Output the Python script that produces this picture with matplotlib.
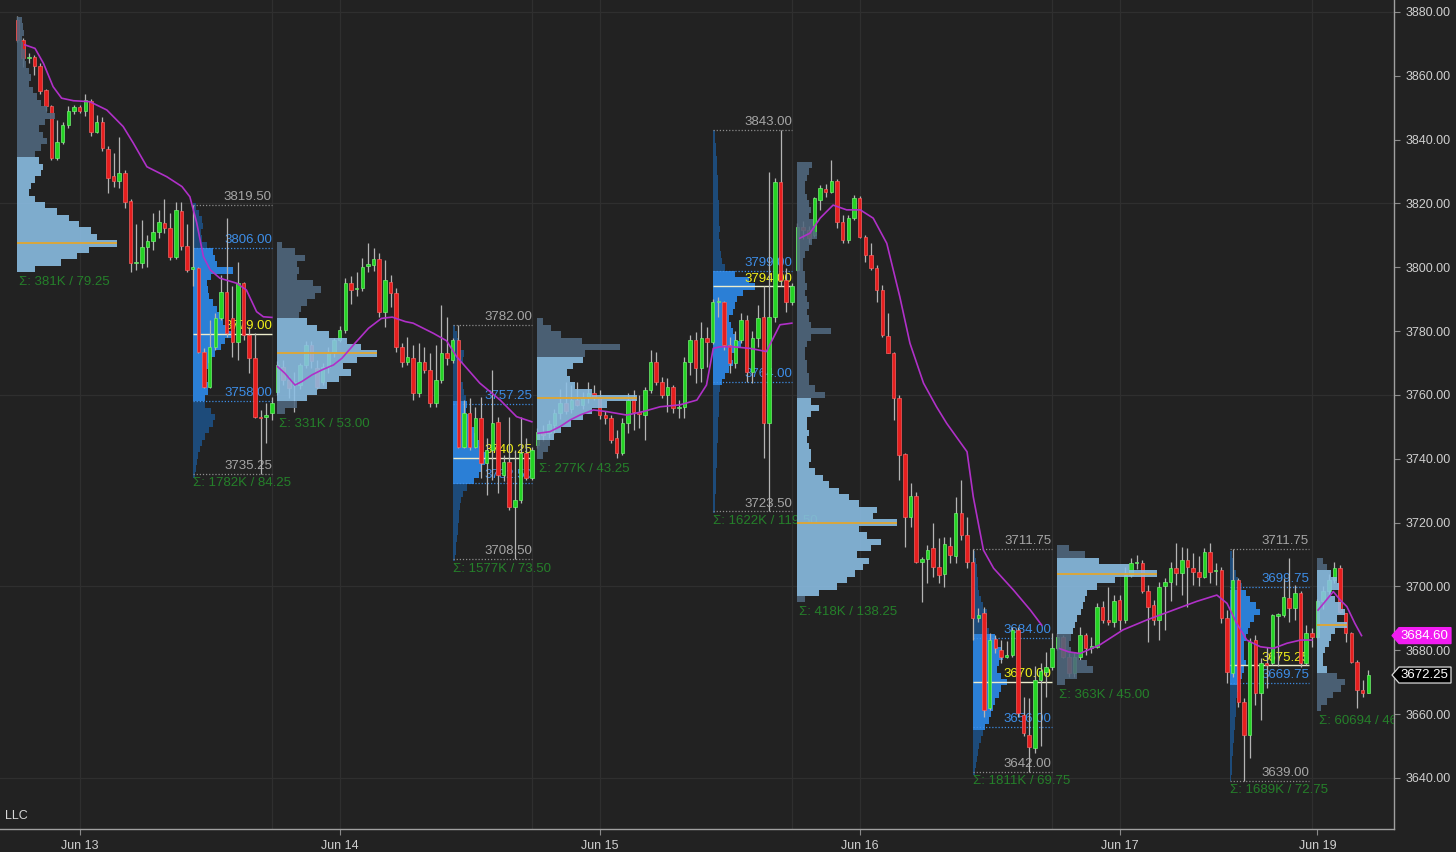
import numpy as np
import matplotlib
matplotlib.use("Agg")
import matplotlib.pyplot as plt
from matplotlib.patches import Polygon
from matplotlib.transforms import blended_transform_factory

plt.rcParams['font.family'] = ['Liberation Sans', 'DejaVu Sans']

# ---------------- 30-minute OHLC bars (bar index 0 .. 239) ----------------
opens = [
    3877.5, 3871.2, 3865.5, 3865.8, 3863.2, 3855.6, 3850.5, 3834.2, 3839.4, 3844.6,
    3849.0, 3850.1, 3849.1, 3852.1, 3842.5, 3845.6, 3837.1, 3828.6, 3827.2, 3829.7,
    3820.8, 3801.3, 3801.3, 3806.3, 3808.4, 3811.0, 3814.0, 3812.2, 3803.3, 3817.8,
    3806.7, 3799.5, 3799.7, 3773.6, 3762.6, 3775.1, 3784.0, 3792.4, 3784.0, 3776.7,
    3795.0, 3778.8, 3771.5, 3753.2, 3753.0, 3754.2,
    3761.0, 3768.9, 3764.7, 3763.0, 3763.1, 3769.4, 3775.7, 3768.4, 3764.2, 3768.9,
    3773.6, 3777.2, 3780.4, 3795.0, 3793.2, 3793.4, 3800.4, 3800.7, 3802.5, 3786.1,
    3795.5, 3791.9, 3775.1, 3770.4, 3771.5, 3760.5, 3770.4, 3767.8, 3757.4, 3764.7,
    3773.0, 3771.0, 3777.2, 3743.8, 3754.3, 3743.8, 3752.7, 3738.6, 3742.8, 3751.6,
    3734.9, 3739.1, 3725.0, 3727.1, 3741.7, 3733.9,
    3744.3, 3748.5, 3748.0, 3750.5, 3754.3, 3757.4, 3755.5, 3758.4, 3757.0, 3759.0,
    3760.5, 3759.5, 3753.7, 3752.7, 3746.4, 3741.7, 3751.1, 3759.0, 3754.8, 3753.7,
    3761.6, 3770.4, 3764.2, 3760.0, 3762.6, 3755.8, 3756.3, 3770.4, 3777.2, 3768.3,
    3777.8, 3776.7, 3789.0, 3789.0, 3775.7, 3769.9, 3777.2, 3783.5, 3767.3, 3777.8,
    3784.5, 3751.1, 3784.5, 3826.8, 3796.0, 3789.2,
    3799.2, 3812.7, 3811.7, 3810.2, 3821.1, 3824.4, 3823.7, 3827.2, 3814.3, 3808.6,
    3815.4, 3821.6, 3809.6, 3803.9, 3799.7, 3792.9, 3778.5, 3773.1, 3759.0, 3741.5,
    3721.9, 3728.4, 3707.8, 3708.5, 3712.0, 3706.2, 3704.0, 3712.7, 3709.6, 3722.9,
    3716.1, 3707.8, 3690.0, 3691.6, 3661.8, 3683.4, 3680.1, 3678.0, 3678.5, 3686.4,
    3659.7, 3653.5, 3649.3, 3670.7, 3673.3, 3674.9,
    3680.6, 3684.3, 3678.0, 3672.8, 3678.0, 3684.8, 3680.6, 3681.1, 3693.5, 3689.5,
    3689.0, 3695.8, 3689.5, 3703.6, 3707.3, 3707.3, 3698.7, 3694.2, 3689.5, 3700.2,
    3701.5, 3705.7, 3704.1, 3708.3, 3705.7, 3704.6, 3703.1, 3710.9, 3704.7, 3705.2,
    3690.0, 3672.8, 3702.0, 3663.9, 3653.5, 3683.2, 3666.5, 3675.9, 3675.9, 3690.8,
    3691.1, 3696.3, 3693.2, 3697.9, 3675.9, 3685.3,
    3684.3, 3695.3, 3698.5, 3702.0, 3705.7, 3691.6, 3685.3, 3676.4, 3667.6, 3666.7,
]
highs = [
    3878.75, 3872.0, 3867.0, 3866.5, 3864.0, 3856.0, 3851.0, 3846.2, 3845.5, 3850.5,
    3851.0, 3851.0, 3854.3, 3852.8, 3847.7, 3847.2, 3838.0, 3835.7, 3840.9, 3830.5,
    3821.5, 3813.6, 3814.8, 3810.1, 3817.0, 3818.0, 3821.3, 3817.0, 3820.6, 3820.6,
    3813.6, 3819.5, 3800.0, 3774.6, 3783.5, 3785.6, 3797.6, 3815.4, 3794.0, 3801.8,
    3795.5, 3781.4, 3779.3, 3755.3, 3757.4, 3759.5,
    3770.5, 3771.0, 3766.0, 3767.3, 3770.0, 3777.0, 3777.0, 3771.0, 3770.0, 3775.0,
    3778.0, 3781.5, 3796.5, 3797.2, 3798.6, 3802.8, 3807.5, 3805.9, 3804.5, 3802.3,
    3797.6, 3793.4, 3776.2, 3778.3, 3775.6, 3776.2, 3775.1, 3773.1, 3775.6, 3788.2,
    3784.5, 3778.0, 3782.0, 3758.4, 3759.0, 3756.3, 3759.5, 3746.4, 3767.8, 3753.2,
    3741.2, 3753.2, 3742.8, 3753.2, 3746.4, 3743.8,
    3749.5, 3750.5, 3752.0, 3755.5, 3762.0, 3764.0, 3763.0, 3764.2, 3761.0, 3764.0,
    3763.0, 3761.5, 3755.0, 3753.7, 3749.0, 3752.7, 3760.5, 3761.6, 3760.0, 3762.6,
    3774.1, 3773.6, 3765.7, 3765.2, 3763.1, 3758.5, 3772.0, 3778.8, 3779.8, 3783.0,
    3781.4, 3790.0, 3790.8, 3789.5, 3778.3, 3779.9, 3785.6, 3785.0, 3780.0, 3788.2,
    3794.0, 3830.0, 3828.0, 3843.0, 3799.7, 3795.0,
    3813.8, 3814.5, 3813.0, 3822.0, 3825.8, 3826.0, 3833.6, 3827.8, 3816.4, 3816.4,
    3822.7, 3822.2, 3810.2, 3807.5, 3800.7, 3794.5, 3785.6, 3773.6, 3760.0, 3741.7,
    3732.3, 3729.7, 3709.3, 3713.0, 3719.8, 3715.1, 3715.6, 3715.6, 3728.1, 3733.4,
    3721.9, 3711.75, 3693.2, 3693.7, 3685.3, 3684.8, 3683.2, 3683.0, 3687.4, 3687.4,
    3665.5, 3665.0, 3675.0, 3675.9, 3679.6, 3685.3,
    3685.3, 3684.8, 3679.1, 3679.6, 3687.4, 3685.3, 3684.3, 3694.7, 3695.3, 3699.9,
    3697.3, 3697.3, 3706.2, 3708.8, 3710.0, 3708.3, 3700.5, 3695.8, 3701.5, 3702.6,
    3707.8, 3713.5, 3712.5, 3712.0, 3710.4, 3709.4, 3711.9, 3713.5, 3707.3, 3706.2,
    3692.6, 3711.75, 3702.6, 3665.0, 3684.0, 3684.8, 3677.5, 3681.1, 3691.5, 3691.6,
    3702.6, 3708.8, 3700.5, 3698.5, 3687.9, 3686.9,
    3696.0, 3700.0, 3704.0, 3707.8, 3706.7, 3691.6, 3685.8, 3677.0, 3670.7, 3673.8,
]
lows = [
    3870.5, 3862.9, 3864.0, 3860.3, 3854.3, 3849.0, 3833.6, 3833.6, 3838.5, 3843.5,
    3848.0, 3848.5, 3847.4, 3841.0, 3842.0, 3836.5, 3823.4, 3825.3, 3824.8, 3818.5,
    3798.6, 3799.2, 3799.7, 3800.2, 3805.4, 3809.1, 3810.6, 3802.3, 3802.5, 3805.4,
    3798.6, 3794.0, 3773.1, 3762.1, 3762.1, 3774.1, 3783.5, 3778.3, 3772.0, 3771.0,
    3777.2, 3766.8, 3752.7, 3735.25, 3744.9, 3752.0,
    3760.0, 3763.0, 3759.0, 3754.8, 3762.0, 3768.5, 3768.5, 3762.0, 3763.0, 3767.0,
    3772.0, 3776.5, 3779.5, 3788.5, 3791.0, 3792.5, 3798.5, 3799.0, 3784.5, 3781.4,
    3787.7, 3773.6, 3768.9, 3769.4, 3758.4, 3759.5, 3766.8, 3756.3, 3756.3, 3763.7,
    3769.4, 3770.0, 3743.3, 3743.3, 3742.8, 3743.3, 3733.9, 3728.7, 3733.4, 3729.2,
    3732.9, 3724.0, 3708.5, 3726.1, 3733.4, 3733.4,
    3743.5, 3745.5, 3746.5, 3748.0, 3752.5, 3754.0, 3754.5, 3756.5, 3755.5, 3757.5,
    3758.5, 3752.5, 3751.0, 3744.9, 3740.2, 3741.2, 3748.0, 3749.0, 3749.5, 3745.9,
    3760.5, 3763.2, 3759.0, 3754.8, 3754.3, 3752.7, 3752.7, 3766.3, 3763.7, 3764.2,
    3768.9, 3776.0, 3784.5, 3774.1, 3766.8, 3768.4, 3776.2, 3764.2, 3763.7, 3775.1,
    3740.2, 3723.5, 3783.0, 3794.0, 3786.1, 3788.2,
    3798.7, 3809.0, 3807.5, 3809.5, 3818.0, 3822.0, 3823.2, 3812.2, 3807.5, 3807.5,
    3814.8, 3809.1, 3801.8, 3799.2, 3789.2, 3778.3, 3773.1, 3752.2, 3733.4, 3712.5,
    3718.7, 3707.3, 3695.2, 3701.0, 3703.1, 3701.0, 3699.9, 3707.3, 3707.3, 3714.6,
    3705.7, 3683.2, 3689.0, 3659.2, 3661.3, 3679.1, 3675.9, 3677.5, 3678.0, 3659.2,
    3653.0, 3642.0, 3647.7, 3650.0, 3665.5, 3673.8,
    3680.0, 3677.5, 3671.7, 3671.7, 3677.0, 3678.5, 3679.1, 3680.6, 3688.5, 3687.9,
    3687.4, 3686.4, 3688.5, 3703.1, 3705.5, 3697.8, 3682.7, 3687.9, 3683.2, 3686.4,
    3695.3, 3700.5, 3697.3, 3693.7, 3700.5, 3700.0, 3702.6, 3701.0, 3700.5, 3688.5,
    3669.7, 3671.7, 3662.3, 3639.0, 3646.2, 3662.9, 3658.2, 3668.1, 3675.4, 3675.0,
    3690.5, 3689.0, 3689.5, 3674.9, 3675.4, 3681.1,
    3683.8, 3693.0, 3697.0, 3701.0, 3691.6, 3682.7, 3675.9, 3661.8, 3665.5, 3666.5,
]
closes = [
    3871.2, 3865.5, 3866.0, 3863.2, 3855.4, 3850.5, 3834.2, 3839.4, 3844.6, 3849.0,
    3850.1, 3849.1, 3852.4, 3842.5, 3845.6, 3837.3, 3827.9, 3827.2, 3829.7, 3820.6,
    3801.3, 3801.7, 3806.3, 3808.4, 3811.0, 3814.3, 3812.2, 3803.1, 3818.0, 3806.7,
    3799.2, 3800.0, 3773.6, 3762.6, 3775.1, 3784.0, 3792.4, 3779.3, 3776.7, 3795.0,
    3778.8, 3771.5, 3753.2, 3752.8, 3753.7, 3757.4,
    3769.4, 3764.7, 3762.1, 3764.0, 3769.4, 3775.7, 3770.5, 3762.6, 3768.9, 3773.6,
    3777.2, 3780.4, 3795.0, 3792.9, 3793.6, 3800.2, 3800.9, 3802.5, 3786.1, 3796.0,
    3791.9, 3775.1, 3770.4, 3772.0, 3760.5, 3770.4, 3767.8, 3757.4, 3764.7, 3773.0,
    3771.5, 3777.2, 3743.8, 3754.3, 3743.8, 3752.7, 3738.6, 3742.8, 3751.1, 3734.9,
    3739.1, 3725.0, 3727.1, 3741.7, 3733.9, 3742.8,
    3748.5, 3747.5, 3751.0, 3754.3, 3757.4, 3755.0, 3758.4, 3757.0, 3759.0, 3760.5,
    3759.5, 3753.7, 3752.7, 3745.9, 3741.7, 3751.1, 3758.4, 3754.8, 3754.0, 3761.6,
    3770.4, 3764.2, 3760.0, 3762.6, 3755.8, 3756.3, 3770.4, 3777.2, 3768.3, 3777.8,
    3776.7, 3789.2, 3789.5, 3775.7, 3769.9, 3777.2, 3783.5, 3767.3, 3777.8, 3784.0,
    3751.1, 3784.5, 3826.8, 3796.0, 3789.2, 3794.0,
    3812.7, 3811.7, 3809.1, 3821.6, 3824.8, 3823.7, 3827.2, 3814.3, 3808.6, 3815.4,
    3821.6, 3809.6, 3803.9, 3799.7, 3792.9, 3778.8, 3773.3, 3759.0, 3741.2, 3721.9,
    3728.4, 3707.8, 3708.5, 3711.4, 3706.2, 3703.6, 3713.3, 3709.9, 3722.9, 3716.1,
    3707.8, 3690.0, 3691.1, 3661.3, 3683.2, 3680.6, 3678.0, 3678.5, 3686.4, 3660.3,
    3654.0, 3649.8, 3670.7, 3673.6, 3674.9, 3680.6,
    3684.3, 3678.0, 3672.8, 3678.0, 3684.8, 3680.6, 3681.4, 3693.7, 3689.5, 3689.0,
    3695.3, 3689.5, 3703.6, 3707.3, 3707.8, 3698.7, 3693.7, 3689.5, 3699.9, 3701.5,
    3705.7, 3704.1, 3708.3, 3706.2, 3704.6, 3703.1, 3710.9, 3704.6, 3705.0, 3690.0,
    3673.3, 3702.0, 3663.9, 3653.5, 3682.7, 3666.5, 3675.9, 3675.4, 3691.1, 3691.3,
    3696.6, 3693.2, 3697.9, 3675.9, 3685.3, 3684.3,
    3695.3, 3698.5, 3702.0, 3705.7, 3692.1, 3685.3, 3676.4, 3667.6, 3666.7, 3672.25,
]

# ---------------- axis labels ----------------
date_labels = ['Jun 13', 'Jun 14', 'Jun 15', 'Jun 16', 'Jun 17', 'Jun 19']
date_tick_bars = [11, 57, 103, 149, 195, 230]
grid_bars = [11, 45, 57, 91, 103, 137, 149, 183, 195, 229]
price_ticks = [3640, 3660, 3680, 3700, 3720, 3740, 3760, 3780, 3800, 3820, 3840, 3860, 3880]
price_grid = [3640, 3700, 3760, 3820, 3880]

# ---------------- session VWAP (read at sample bars) ----------------
vwap_bars = [1.3, 3.1, 4.6, 6.3, 7.8, 9.9, 12.8, 15.8, 18.7, 20.5, 22.9, 26.4, 29.1, 30.5, 31.7, 32.9,
             34.1, 35.8, 38.8, 40.5, 42.3, 43.5, 45.0,
             46.0, 47.3, 49.1, 50.3, 52.1, 53.8, 55.9, 57.4, 59.7, 62.1, 64.4, 66.3, 68.6, 70.0, 73.6,
             75.9, 77.7, 81.8, 85.4, 88.3, 91.0,
             92.1, 94.2, 96.0, 97.8, 99.5, 101.9, 104.2, 107.8, 110.7, 113.7, 117.2, 120.2, 121.9, 123.1,
             124.3, 126.6, 129.6, 132.5, 134.9, 137.0,
             138.4, 140.2, 142.0, 144.3, 146.7, 149.1, 151.4, 153.8, 156.1, 157.9, 160.3, 162.6, 164.4,
             168.0, 169.1, 170.9, 172.7, 176.2, 179.2, 181.2,
             184.4, 186.0, 188.0, 191.5, 195.6, 199.8, 204.5, 208.6, 212.2, 214.0, 215.7, 217.5, 219.9,
             222.2, 224.6, 227.0, 229.0,
             230.1, 231.6, 232.8, 234.0, 235.2, 236.6, 237.8]
vwap_vals = [3869.7, 3868.6, 3863.9, 3856.6, 3853.0, 3852.2, 3851.9, 3849.3, 3844.1, 3838.9, 3831.5, 3828.4,
             3825.3, 3822.1, 3814.0, 3803.3, 3799.2, 3796.6, 3795.0, 3792.9, 3786.1, 3784.5, 3784.3,
             3768.9, 3766.8, 3763.1, 3764.2, 3766.3, 3767.8, 3769.4, 3771.5, 3776.2, 3780.9, 3784.0, 3784.4,
             3783.0, 3782.5, 3779.3, 3777.0, 3772.0, 3763.7, 3758.4, 3753.2, 3751.6,
             3748.0, 3748.5, 3750.1, 3752.2, 3753.7, 3755.3, 3754.8, 3753.7, 3754.8, 3756.3, 3756.9, 3758.4,
             3763.1, 3774.6, 3775.1, 3775.1, 3774.6, 3773.6, 3782.0, 3782.5,
             3809.1, 3810.7, 3815.4, 3819.5, 3818.0, 3818.0, 3815.4, 3807.5, 3790.8, 3776.2, 3763.7, 3756.3,
             3751.1, 3742.2, 3728.1, 3711.4, 3705.7, 3698.9, 3692.6, 3687.9,
             3680.5, 3679.5, 3679.0, 3681.7, 3686.4, 3689.5, 3692.6, 3695.3, 3697.3, 3694.7, 3688.5, 3683.2,
             3681.1, 3680.6, 3682.2, 3683.2, 3683.2,
             3692.6, 3695.8, 3698.4, 3695.8, 3693.7, 3688.5, 3684.6]
vwap_resets = [46, 92, 138, 184, 230]

# ---------------- overnight (ETH) volume profiles: widths per 2-pt row ----------------
eth_start = [0, 46, 92, 138, 184, 230]
eth_top = [3877.5, 3807, 3783, 3832, 3712, 3708]
eth_vol = [
    [5, 6, 7, 5, 6, 8, 8, 9, 12, 14, 12, 16, 20, 24, 30, 38, 28, 22, 26, 30,
     24, 18, 22, 26, 24, 18, 14, 12, 18, 28, 40, 52, 62, 74, 80, 100, 72, 60, 44, 18],
    [5, 18, 28, 20, 22, 20, 36, 44, 38, 30, 24, 22, 30, 40, 52, 70, 84, 100, 80, 66,
     74, 62, 50, 40, 30, 20, 8],
    [6, 14, 24, 45, 83, 48, 46, 36, 30, 33, 38, 55, 100, 70, 55, 46, 34, 24, 17, 13, 11, 6],
    [15, 12, 10, 8, 8, 10, 12, 14, 12, 16, 18, 20, 15, 12, 8, 6, 6, 8, 8, 10,
     8, 10, 12, 10, 12, 14, 34, 14, 10, 8, 8, 10, 10, 12, 12, 18, 28, 14, 22, 14,
     10, 10, 12, 10, 12, 14, 14, 12, 18, 26, 32, 42, 52, 62, 80, 76, 100, 62, 70, 84,
     74, 60, 72, 66, 58, 50, 40, 22, 8],
    [12, 28, 42, 72, 100, 58, 40, 30, 28, 26, 24, 20, 18, 16, 14, 12, 14, 22, 30, 36, 20, 8],
    [6, 10, 14, 20, 22, 14, 18, 24, 28, 20, 30, 18, 14, 12, 8, 6, 6, 10, 20, 28, 24, 16, 10, 4],
]
eth_vah = [3835, 3783.5, 3771.5, 3758, 3709.5, 3705.5]
eth_val = [3799, 3758.5, 3747, 3697, 3684.5, 3672.5]
eth_poc = [3807.5, 3773, 3759, 3720, 3704, 3688]
eth_sigma = ['Σ: 381K / 79.25', 'Σ: 331K / 53.00', 'Σ: 277K / 43.25',
             'Σ: 418K / 138.25', 'Σ: 363K / 45.00', 'Σ: 60694 / 46']

# ---------------- day session (RTH) volume profiles ----------------
rth_start = [31, 77, 123, 169, 214.5]
rth_top = [3819, 3781, 3842, 3710, 3710]
rth_vol = [
    [3, 6, 9, 10, 8, 9, 14, 20, 22, 24, 40, 18, 14, 15, 16, 20, 24, 27, 30, 34,
     40, 32, 28, 22, 18, 15, 13, 13, 15, 15, 12, 12, 18, 22, 20, 16, 12, 9, 7, 5, 4, 3, 2],
    [2, 4, 6, 7, 11, 10, 6, 8, 8, 10, 11, 13, 14, 13, 16, 18, 21, 23, 26, 30,
     35, 32, 29, 26, 21, 14, 10, 8, 7, 6, 6, 5, 5, 4, 3, 3, 2],
    [2, 2, 3, 3, 4, 4, 4, 5, 5, 5, 5, 6, 6, 6, 6, 7, 6, 7, 7, 8,
     9, 12, 22, 36, 42, 30, 24, 22, 20, 16, 18, 20, 22, 28, 22, 18, 20, 16, 12, 9,
     7, 6, 6, 6, 6, 5, 5, 5, 5, 4, 4, 4, 4, 3, 3, 3, 3, 2, 2, 2],
    [2, 3, 4, 4, 5, 5, 6, 8, 10, 14, 12, 14, 16, 22, 24, 28, 30, 26, 24, 28,
     34, 28, 26, 22, 20, 18, 16, 12, 10, 8, 6, 5, 4, 3, 2],
    [2, 3, 4, 6, 8, 12, 16, 20, 26, 30, 24, 20, 18, 16, 14, 14, 14, 16, 14, 12,
     10, 8, 7, 6, 6, 6, 5, 5, 4, 4, 3, 3, 2, 2, 2, 1],
]
rth_high = [3819.50, 3782.00, 3843.00, 3711.75, 3711.75]
rth_low = [3735.25, 3708.50, 3723.50, 3642.00, 3639.00]
rth_vah = [3806.00, 3757.25, 3799.00, 3684.00, 3699.75]
rth_val = [3758.00, 3732.50, 3764.00, 3656.00, 3669.75]
rth_poc = [3779.00, 3740.25, 3794.00, 3670.00, 3675.25]
rth_sigma = ['Σ: 1782K / 84.25', 'Σ: 1577K / 73.50', 'Σ: 1622K / 119.50',
             'Σ: 1811K / 69.75', 'Σ: 1689K / 72.75']

last_price = 3672.25
vwap_last = 3684.60

# ---------------- styling ----------------
BG = '#222222'
PX = 5.652          # pixels per bar
FS = 9.5

fig = plt.figure(figsize=(14.56, 8.52), dpi=100, facecolor=BG)
ax = fig.add_axes([0, 23 / 852, 1394 / 1456, 829 / 852])
ax.set_facecolor(BG)
ax.set_xlim(-3.096, 243.54)
ax.set_ylim(3624.0, 3883.76)

for p in price_grid:
    ax.axhline(p, color='#2f2f2f', lw=0.9, zorder=0)
for b in grid_bars:
    ax.axvline(b, color='#2f2f2f', lw=0.9, zorder=0)

row_h = 2.0


def draw_profile(start, top, vols, vah, val, c_in, c_out, z, alpha):
    levels = top - row_h * np.arange(len(vols))
    widths = np.asarray(vols, dtype=float) / PX
    cols = [c_in if val <= lv <= vah else c_out for lv in levels]
    ax.barh(levels, widths, height=row_h, left=start, color=cols,
            edgecolor='none', zorder=z, alpha=alpha)
    return levels


# RTH profiles (under candles)
for i in range(len(rth_start)):
    s = rth_start[i]
    e = s + 14
    draw_profile(s, rth_top[i], rth_vol[i], rth_vah[i], rth_val[i],
                 '#2b7fd6', '#1d4b7a', 1, 1.0)
    ax.hlines([rth_high[i], rth_low[i]], s, e, colors='#8c8c8c', lw=0.9,
              linestyles=(0, (1, 1.5)), zorder=1.4)
    ax.hlines([rth_vah[i], rth_val[i]], s, e, colors='#3d8ee8', lw=0.9,
              linestyles=(0, (1, 1.5)), zorder=1.4)
    ax.hlines(rth_poc[i], s, e, colors='#ececcc', lw=1.0, zorder=1.4)
    for val_, col in [(rth_high[i], '#a6a6a6'), (rth_low[i], '#a6a6a6'),
                      (rth_vah[i], '#3d8ee8'), (rth_val[i], '#3d8ee8'),
                      (rth_poc[i], '#f2f21a')]:
        ax.text(e, val_ + 0.6, f'{val_:.2f}', color=col, fontsize=FS,
                ha='right', va='bottom', zorder=1.5)
    ax.text(s + 0.1, rth_low[i] - 1.0, rth_sigma[i], color='#25802a', fontsize=FS,
            ha='left', va='top', zorder=2.5, clip_on=True)

# candles
x = np.arange(len(opens))
o = np.array(opens); h = np.array(highs); l = np.array(lows); c = np.array(closes)
up = c >= o
ax.vlines(x, l, h, colors='#b4b4b4', lw=0.9, zorder=2)
body_lo = np.minimum(o, c)
body_h = np.maximum(np.abs(c - o), 0.35)
ax.bar(x[up], body_h[up], bottom=body_lo[up], width=0.62, color='#24d424',
       edgecolor='#74ee74', lw=0.5, zorder=2.1)
ax.bar(x[~up], body_h[~up], bottom=body_lo[~up], width=0.62, color='#e61e1e',
       edgecolor='#f46060', lw=0.5, zorder=2.1)

# ETH profiles (drawn over candles, semi-opaque)
for i in range(len(eth_start)):
    s = eth_start[i]
    levels = draw_profile(s, eth_top[i], eth_vol[i], eth_vah[i], eth_val[i],
                          '#8cc0e6', '#50687f', 3, 0.88)
    k = int(np.argmin(np.abs(levels - eth_poc[i])))
    poc_w = eth_vol[i][k] / PX
    ax.hlines(eth_poc[i], s, s + poc_w, colors='#d9a63c', lw=1.4, zorder=3.5)
    bottom = levels[-1] - row_h / 2
    ax.text(s + 0.3, bottom - 1.2, eth_sigma[i], color='#25802a', fontsize=FS,
            ha='left', va='top', zorder=3.6, clip_on=True)

# VWAP (resets every trading day)
vb = np.array(vwap_bars); vv = np.array(vwap_vals)
edges = [0] + [int(np.searchsorted(vb, r)) for r in vwap_resets] + [len(vb)]
for a, b in zip(edges[:-1], edges[1:]):
    ax.plot(vb[a:b], vv[a:b], color='#b030c8', lw=1.2, zorder=4)

# axes styling
for sp in ['top', 'left']:
    ax.spines[sp].set_visible(False)
for sp in ['right', 'bottom']:
    ax.spines[sp].set_color('#a0a0a0')
    ax.spines[sp].set_linewidth(1.0)
ax.yaxis.tick_right()
ax.set_yticks(price_ticks)
ax.set_yticklabels([f'{p:.2f}' for p in price_ticks])
ax.set_xticks(date_tick_bars)
ax.set_xticklabels(date_labels)
ax.tick_params(axis='y', colors='#8a8a8a', labelcolor='#cfcfcf', labelsize=9,
               length=4, width=0.8, pad=4)
ax.tick_params(axis='x', colors='#8a8a8a', labelcolor='#cfcfcf', labelsize=9,
               length=4, width=0.8, pad=4)

ax.text(5 / 1394, 13 / 829, 'LLC', transform=ax.transAxes, color='#d8d8d8',
        fontsize=9, ha='left', va='center')

# price tags on the right axis
trans = blended_transform_factory(fig.transFigure, ax.transData)
half = 8 / 3.1917


def tag(price, face, edge, txt):
    x0, x1, x2 = 1392 / 1456, 1399 / 1456, 1451 / 1456
    poly = Polygon([[x0, price], [x1, price + half], [x2, price + half],
                    [x2, price - half], [x1, price - half]], closed=True,
                   transform=trans, facecolor=face, edgecolor=edge, lw=0.9,
                   clip_on=False, zorder=10)
    ax.add_patch(poly)
    ax.text(1424 / 1456, price, txt, transform=trans, color='white', fontsize=9.5,
            ha='center', va='center', clip_on=False, zorder=11)


tag(vwap_last, '#f21cf2', '#f21cf2', f'{vwap_last:.2f}')
tag(last_price, '#000000', '#d8d8d8', f'{last_price:.2f}')

fig.savefig('out.png', dpi=100, facecolor=BG)
